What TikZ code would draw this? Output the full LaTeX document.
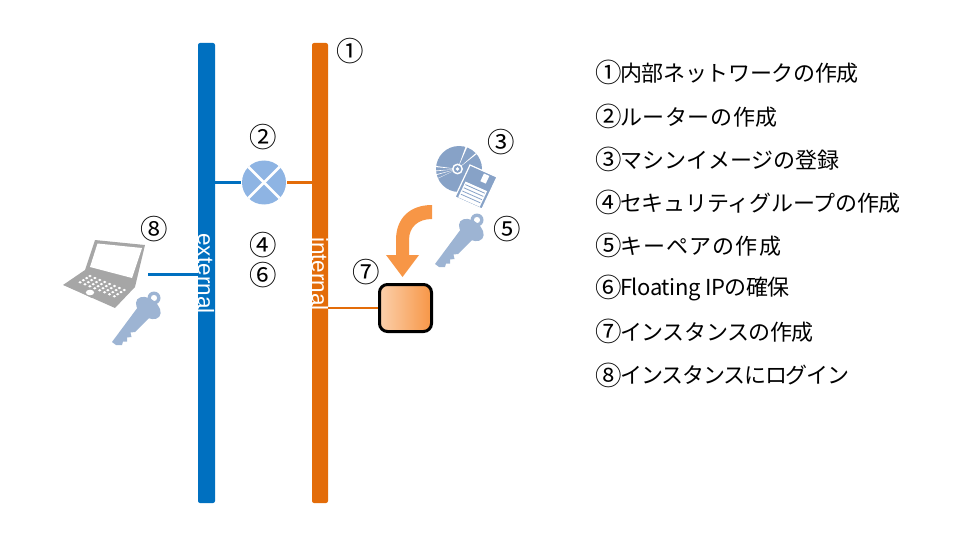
\documentclass[tikz,border=0pt]{standalone}
\usepackage{fontspec}
\setmainfont{Noto Sans CJK JP}
\newfontfamily\latinlabel{Liberation Sans}
\definecolor{extblue}{HTML}{0070C0}
\definecolor{intorange}{HTML}{E36C09}
\definecolor{routerblue}{HTML}{8EB4E3}
\definecolor{keyblue}{HTML}{9DB4D3}
\definecolor{cdblue}{HTML}{87A2C7}
\definecolor{lapgray}{HTML}{A6A6A6}
\definecolor{arroworange}{HTML}{F79646}
\newcommand{\listline}[1]{\raisebox{-1.6pt}[0pt][0pt]{\makebox[25pt][l]{\fontsize{26.5}{28}\selectfont #1}}}
\newcommand{\lsp}[2]{{\addfontfeature{LetterSpace=#1}#2}}
\tikzset{
  netbar/.style={draw=none,rectangle,rounded corners=2pt,minimum width=#1,minimum height=460pt,inner sep=0pt},
  barlabel/.style={text=white,rotate=-90,inner sep=0pt,font=\latinlabel\fontsize{22.5}{24}\selectfont},
  num/.style={inner sep=0pt,font=\fontsize{27.5}{30}\selectfont},
  listitem/.style={anchor=west,inner sep=0pt,font=\fontsize{22}{26}\selectfont},
  link/.style={line width=3pt},
  pics/keyicon/.style={code={
    \fill[keyblue,even odd rule] (0,0) circle[radius=6.5] (0,0) circle[radius=3.2];
    \fill[keyblue,shift={(-5.7,10)},rotate=-38] (0,0) circle[x radius=14,y radius=9];
    \fill[keyblue] (-16,9) -- (-42,44) -- (-38,47) -- (-32,47) -- (-31,43.5) -- (-27,43.5) -- (-27,39.5) -- (-22.5,39) -- (-23.5,34.5) -- (-19,34) -- (-3,18) -- cycle;
  }}
}
\begin{document}
\begin{tikzpicture}[x=1pt,y=-1pt]
\useasboundingbox (0,0) rectangle (960,540);
% network bars
\node[netbar=17pt,fill=extblue] (ext) at (206.5,273) {};
\node[netbar=16pt,fill=intorange] (int) at (320,273) {};
\node[barlabel] (extlabel) at (206,273.5) {external};
\node[barlabel] (intlabel) at (320,274) {internal};
% router
\node[circle,fill=routerblue,minimum size=44pt,inner sep=0pt] (router) at (264,182.5) {};
\draw[white,line width=2.6pt] (router.north west) -- (router.south east);
\draw[white,line width=2.6pt] (router.north east) -- (router.south west);
\coordinate (rw) at (241,182.5);
\coordinate (re) at (287,182.5);
\draw[link,extblue] (rw) -- (rw -| ext.east);
\draw[link,intorange] (re) -- (re -| int.west);
% instance
\node[rectangle,rounded corners=8pt,draw=black,line width=3pt,left color=arroworange!45!white,right color=arroworange,minimum width=52pt,minimum height=47pt,inner sep=0pt] (inst) at (405.5,308) {};
\draw[link,intorange,line width=2.6pt] (inst.west) -- (inst.west -| int.east);
% block arrow
\fill[arroworange] (432,205) .. controls (410,205) and (396,218) .. (396,240) -- (396,255) -- (386,255) -- (402.5,277) -- (419,255) -- (409,255) -- (409,240) .. controls (409,227) and (418,219) .. (432,219) -- cycle;
% CD
\fill[cdblue] (459,169) circle[radius=23];
\foreach \a/\b in {66/70,38/41,172/175,184/186,194/196,205/206}{
  \fill[white] (457.5,169) -- ({457.5+24*cos(\a)},{169-24*sin(\a)}) -- ({457.5+24*cos(\b)},{169-24*sin(\b)}) -- cycle;
}
\fill[white] (457.5,169) circle[radius=5.5];
\fill[cdblue] (457.5,169) circle[radius=3.8];
\fill[white] (457.5,169) circle[radius=1.8];
% floppy
\fill[cdblue,draw=white,line width=1.2pt] (470,165) -- (497,177) -- (482,209) -- (455,197) -- cycle;
\fill[white] ({470+27*0.55-15*0.06},{165+12*0.55+32*0.06}) -- ({470+27*0.75-15*0.06},{165+12*0.75+32*0.06}) -- ({470+27*0.75-15*0.3},{165+12*0.75+32*0.3}) -- ({470+27*0.55-15*0.3},{165+12*0.55+32*0.3}) -- cycle;
\fill[white] ({470+27*0.1-15*0.48},{165+12*0.1+32*0.48}) -- ({470+27*0.9-15*0.48},{165+12*0.9+32*0.48}) -- ({470+27*0.9-15*0.97},{165+12*0.9+32*0.97}) -- ({470+27*0.1-15*0.97},{165+12*0.1+32*0.97}) -- cycle;
\foreach \t in {0.56,0.66,0.76,0.86}{
  \draw[cdblue,line width=0.8pt] ({470+27*0.14-15*\t},{165+12*0.14+32*\t}) -- ({470+27*0.86-15*\t},{165+12*0.86+32*\t});
}
% keys
\pic at (477,220) {keyicon};
\pic at (154,298) {keyicon};
% laptop
\fill[lapgray] (95,240) -- (145,245) -- (135,287) -- (115,308) -- (63,285) -- (85,270) -- cycle;
\fill[white] (97.5,243.5) -- (142,248) -- (132,278) -- (90,267) -- cycle;
\foreach \r in {0,1,2,3}{
  \foreach \c in {0,...,7}{
    \fill[white] ({90+\c*4.9-\r*3.3},{276+\c*2.0+\r*2.1}) circle[x radius=1.7,y radius=1.25];
  }
}
\fill[lapgray] (84,288) -- (98,294) -- (92,298) -- (80,292) -- cycle;
\fill[white] (90,292.5) circle[x radius=4.2,y radius=2.8];
\coordinate (lapend) at (148,274);
\draw[link,extblue] (lapend) -- (lapend -| ext.west);
% step numbers
\node[num] (n1) at (350,51) {①};
\node[num] (n2) at (263,137) {②};
\node[num] (n3) at (501,142) {③};
\node[num] (n4) at (263,245) {④};
\node[num] (n5) at (507,229) {⑤};
\node[num] (n6) at (263,275) {⑥};
\node[num] (n7) at (366,272) {⑦};
\node[num] (n8) at (154,229) {⑧};
% list
\node[listitem] (l1) at (595,73) {\listline{①}\lsp{-1.6}{内部ネットワークの作成}};
\node[listitem] (l2) at (595,117) {\listline{②}\lsp{2.6}{ルーターの作成}};
\node[listitem] (l3) at (595,160) {\listline{③}\lsp{0}{マシンイメージの登録}};
\node[listitem] (l4) at (595,203) {\listline{④}\lsp{-1}{セキュリティグループの作成}};
\node[listitem] (l5) at (595,246) {\listline{⑤}\lsp{5.2}{キーペアの作成}};
\node[listitem] (l6) at (595,289) {\listline{⑥}\lsp{-2}{Floating IPの確保}};
\node[listitem] (l7) at (595,332) {\listline{⑦}\lsp{-2}{インスタンスの作成}};
\node[listitem] (l8) at (595,375) {\listline{⑧}\lsp{-5.4}{インスタンスにログイン}};
\end{tikzpicture}
\end{document}
